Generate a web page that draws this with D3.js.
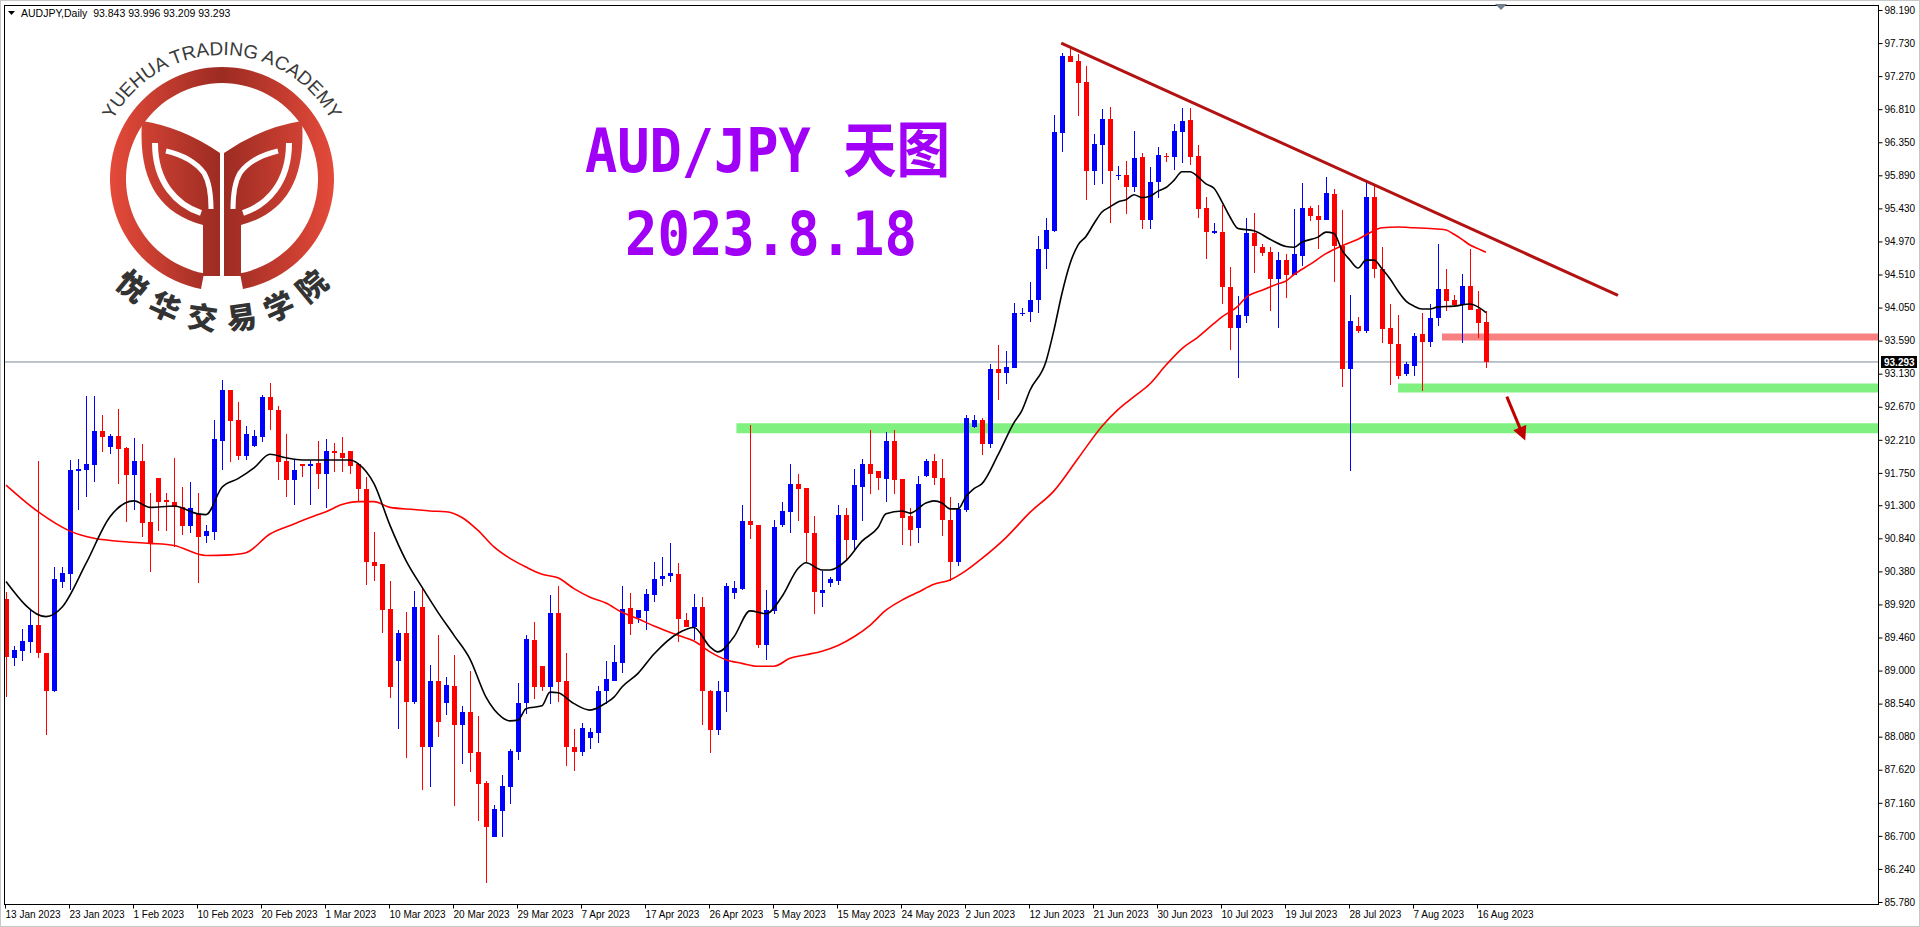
<!DOCTYPE html>
<html><head><meta charset="utf-8">
<script src="https://cdn.jsdelivr.net/npm/d3@7/dist/d3.min.js"></script>
<style>html,body{margin:0;padding:0;background:#fff;overflow:hidden}</style>
</head><body><svg id="c" width="1920" height="927"></svg>
<script>
// ---------------- DATA ----------------
const symbolHeader = "AUDJPY,Daily  93.843 93.996 93.209 93.293";
const titleLine1 = "AUD/JPY 天图";
const titleLine2 = "2023.8.18";
const logoTop = "YUEHUA TRADING ACADEMY";
const logoBottom = "悦华交易学院";
const dateLabels = ["13 Jan 2023","23 Jan 2023","1 Feb 2023","10 Feb 2023","20 Feb 2023","1 Mar 2023","10 Mar 2023","20 Mar 2023","29 Mar 2023","7 Apr 2023","17 Apr 2023","26 Apr 2023","5 May 2023","15 May 2023","24 May 2023","2 Jun 2023","12 Jun 2023","21 Jun 2023","30 Jun 2023","10 Jul 2023","19 Jul 2023","28 Jul 2023","7 Aug 2023","16 Aug 2023"];
const dateLabelStep = 8; // bars between date labels
const priceTicks = [98.19,97.73,97.27,96.81,96.35,95.89,95.43,94.97,94.51,94.05,93.59,93.13,92.67,92.21,91.75,91.30,90.84,90.38,89.92,89.46,89.00,88.54,88.08,87.62,87.16,86.70,86.24,85.78];
const priceMin = 85.78, priceMax = 98.19;
const lastPrice = 93.293;

const candles = [
[89.99,90.09,88.63,89.19],[89.17,89.34,89.06,89.28],[89.27,89.58,89.13,89.41],[89.40,89.86,89.24,89.64],[89.64,91.91,89.17,89.24],
[89.25,89.25,88.10,88.71],[88.71,90.44,88.70,90.28],[90.23,90.44,90.15,90.36],[90.34,91.93,90.12,91.79],[91.78,91.94,91.24,91.80],
[91.79,92.82,91.42,91.87],[91.86,92.82,91.62,92.33],[92.33,92.55,92.04,92.25],[92.11,92.29,92.01,92.27],[92.27,92.64,91.60,92.08],
[92.10,92.11,91.07,91.72],[91.72,92.23,91.23,91.91],[91.91,92.15,90.86,91.05],[91.07,91.47,90.37,90.77],[91.68,91.68,90.94,91.35],
[91.37,91.47,90.94,91.35],[91.35,91.96,90.72,91.27],[91.27,91.55,90.89,91.01],[91.01,91.62,90.92,91.26],[91.18,91.47,90.22,90.86],
[90.87,91.03,90.77,90.94],[90.93,92.48,90.81,92.22],[92.20,93.04,91.79,92.91],[92.91,92.91,91.90,92.47],[92.48,92.74,91.93,91.98],
[91.98,92.40,91.93,92.29],[92.12,92.34,92.11,92.26],[92.25,92.84,92.18,92.81],[92.81,93.00,92.34,92.62],[92.63,92.68,91.65,91.90],
[91.91,92.29,91.41,91.65],[91.65,91.93,91.30,91.79],[91.87,91.88,91.69,91.85],[91.84,91.93,91.31,91.88],[91.89,92.19,91.52,91.74],
[91.74,92.22,91.26,92.05],[92.05,92.16,91.76,92.03],[92.03,92.25,91.76,91.96],[92.05,92.05,91.74,91.84],[91.88,91.89,91.36,91.52],
[91.53,91.69,90.19,90.51],[90.51,90.93,90.25,90.46],[90.48,90.48,89.52,89.84],[89.85,90.24,88.62,88.77],[89.13,89.57,88.18,89.52],
[89.52,89.82,87.78,88.56],[88.56,90.10,88.54,89.89],[89.89,90.15,87.34,87.93],[87.93,89.08,87.38,88.86],[88.86,89.50,88.07,88.28],
[88.55,88.91,88.38,88.80],[88.79,89.22,87.11,88.24],[88.24,88.50,87.70,88.42],[88.42,88.99,87.59,87.85],[87.87,88.37,86.90,87.42],
[87.43,87.47,86.04,86.83],[86.69,87.13,86.68,87.07],[87.05,87.54,86.69,87.39],[87.38,87.91,87.14,87.88],[87.87,88.82,87.75,88.55],
[88.55,89.50,88.40,89.44],[89.43,89.67,88.61,88.77],[89.06,89.07,88.72,88.77],[88.77,90.05,88.53,89.80],[89.80,90.17,88.56,88.84],
[88.85,89.24,87.67,87.93],[87.93,88.18,87.60,87.87],[87.87,88.27,87.81,88.20],[88.06,88.20,87.91,88.14],[88.13,88.79,87.99,88.72],
[88.71,89.13,88.54,88.88],[88.86,89.35,88.86,89.12],[89.11,90.17,88.96,89.86],[89.87,90.08,89.50,89.65],[89.73,89.84,89.66,89.84],
[89.83,90.14,89.57,90.06],[90.05,90.51,89.95,90.28],[90.27,90.58,90.18,90.32],[90.31,90.77,90.23,90.36],[90.34,90.49,89.40,89.72],
[89.71,89.80,89.60,89.61],[89.61,90.07,89.42,89.88],[89.88,90.02,88.24,88.71],[88.72,88.73,87.85,88.17],[88.17,88.85,88.11,88.71],
[88.70,90.22,88.42,90.17],[90.08,90.25,89.99,90.15],[90.14,91.30,90.12,91.08],[91.08,92.41,90.83,91.02],[91.03,91.03,89.31,89.35],
[89.35,90.12,89.14,89.84],[89.83,91.09,89.78,91.00],[91.02,91.35,91.00,91.22],[91.21,91.87,90.91,91.59],[91.59,91.73,91.08,91.52],
[91.54,91.54,90.51,90.91],[90.92,91.15,89.79,90.09],[90.08,90.39,89.89,90.12],[90.22,90.30,90.16,90.27],[90.25,91.31,90.19,91.16],
[91.16,91.26,90.53,90.81],[90.81,91.80,90.67,91.58],[91.56,91.94,91.08,91.87],[91.87,92.34,91.46,91.73],[91.77,91.77,91.51,91.68],
[91.66,92.32,91.35,92.19],[92.19,92.34,91.46,91.65],[91.66,91.66,90.74,91.12],[91.15,91.26,90.73,90.96],[90.98,91.70,90.77,91.60],
[91.70,91.95,91.69,91.92],[91.92,92.01,91.58,91.68],[91.68,91.94,90.87,91.10],[91.10,91.41,90.25,90.51],[90.51,91.33,90.46,91.25],
[91.24,92.56,91.21,92.51],[92.39,92.56,92.38,92.49],[92.49,92.52,92.00,92.15],[92.15,93.27,92.10,93.20],[93.20,93.53,92.77,93.14],
[93.14,93.45,92.98,93.22],[93.21,94.11,93.21,93.97],[93.97,94.05,93.93,93.98],[93.99,94.41,93.85,94.16],[94.16,95.04,93.97,94.87],
[94.87,95.30,94.58,95.13],[95.11,96.73,95.10,96.49],[96.48,97.59,96.22,97.55],[97.55,97.66,97.47,97.47],[97.48,97.58,96.71,97.18],
[97.19,97.41,95.55,95.95],[95.95,96.46,95.75,96.33],[96.31,96.81,95.77,96.67],[96.67,96.84,95.23,95.95],[95.88,96.02,95.82,95.90],
[95.89,96.09,95.35,95.73],[95.73,96.50,95.66,96.13],[96.15,96.20,95.14,95.27],[95.27,96.01,95.14,95.80],[95.80,96.28,95.58,96.17],
[96.16,96.20,96.08,96.14],[96.14,96.61,95.97,96.51],[96.49,96.82,96.06,96.65],[96.66,96.82,96.03,96.15],[96.16,96.31,95.29,95.42],
[95.43,95.59,94.72,95.10],[95.09,95.23,95.07,95.11],[95.10,95.48,94.10,94.33],[94.34,94.62,93.46,93.77],[93.77,94.21,93.07,93.94],
[93.93,95.30,93.84,95.09],[95.09,95.37,94.53,94.90],[94.89,94.93,94.77,94.81],[94.82,94.89,94.00,94.45],[94.45,94.83,93.76,94.71],
[94.71,94.80,94.19,94.51],[94.51,95.42,94.50,94.79],[94.77,95.79,94.63,95.44],[95.44,95.47,95.26,95.32],[95.32,95.48,94.86,95.27],
[95.27,95.86,95.27,95.65],[95.63,95.70,94.41,94.90],[94.90,95.41,92.95,93.19],[93.19,94.22,91.78,93.86],[93.80,93.92,93.70,93.72],
[93.72,95.80,93.70,95.59],[95.59,95.75,94.46,94.58],[94.59,94.89,93.56,93.75],[93.76,94.10,92.97,93.55],[93.55,93.94,93.05,93.10],
[93.12,93.29,93.10,93.26],[93.24,93.69,93.10,93.66],[93.68,93.97,92.89,93.57],[93.57,94.10,93.50,93.91],[93.91,94.93,93.80,94.31],
[94.31,94.58,94.00,94.14],[94.16,94.22,94.06,94.08],[94.08,94.52,93.56,94.35],[94.35,94.86,94.02,94.02],[94.03,94.28,93.63,93.84],
[93.843,93.996,93.209,93.293]
];

const maFast = [[0,90.24],[5,89.75],[7,89.88],[10,90.49],[13,91.14],[16,91.36],[18,91.27],[21,91.29],[24,91.18],[25,91.17],[27,91.55],[29,91.67],[31,91.82],[33,92.01],[35,91.96],[37,91.93],[40,91.93],[43,91.93],[44,91.88],[46,91.60],[48,91.02],[50,90.53],[52,90.16],[54,89.81],[56,89.49],[58,89.16],[60,88.63],[62,88.35],[63,88.30],[64,88.31],[65,88.47],[67,88.51],[68,88.70],[69,88.69],[71,88.54],[73,88.45],[75,88.55],[76,88.63],[77,88.77],[79,88.96],[81,89.23],[84,89.52],[86,89.60],[88,89.33],[89,89.26],[91,89.47],[93,89.83],[95,89.79],[97,90.03],[99,90.42],[100,90.50],[102,90.40],[103,90.40],[105,90.53],[107,90.80],[109,90.99],[110,91.18],[112,91.22],[113,91.19],[115,91.33],[116,91.36],[117,91.33],[118,91.25],[119,91.25],[120,91.42],[121,91.53],[122,91.60],[124,92.0],[126,92.45],[127,92.62],[128,92.9],[130,93.30],[131,93.74],[132,94.25],[133,94.66],[134,94.92],[135,95.04],[136,95.22],[137,95.38],[138,95.45],[139,95.52],[140,95.55],[141,95.62],[142,95.58],[143,95.60],[144,95.67],[145,95.72],[146,95.82],[147,95.94],[148,95.94],[149,95.87],[150,95.77],[151,95.71],[152,95.52],[153,95.31],[154,95.15],[156,95.12],[158,95.00],[160,94.90],[161,94.89],[162,94.96],[164,95.03],[165,95.10],[166,95.08],[167,94.85],[168,94.71],[169,94.60],[170,94.71],[171,94.71],[172,94.59],[173,94.45],[174,94.28],[175,94.14],[176,94.07],[177,94.03],[178,94.03],[179,94.06],[181,94.07],[183,94.10],[184,94.06],[185,93.98]];
const maSlow = [[0,91.58],[4,91.21],[8,90.94],[11,90.84],[14,90.80],[18,90.77],[21,90.74],[25,90.60],[28,90.61],[30,90.64],[33,90.90],[36,91.04],[39,91.17],[40,91.21],[42,91.31],[44,91.35],[46,91.35],[48,91.27],[51,91.24],[53,91.22],[55,91.21],[57,91.13],[59,90.95],[61,90.72],[63,90.56],[65,90.44],[67,90.34],[69,90.29],[71,90.14],[73,90.02],[75,89.94],[77,89.81],[79,89.72],[81,89.62],[84,89.49],[86,89.41],[88,89.26],[90,89.15],[92,89.10],[94,89.06],[96,89.06],[98,89.17],[100,89.22],[102,89.27],[104,89.35],[106,89.47],[108,89.63],[110,89.84],[112,89.98],[114,90.09],[116,90.20],[118,90.26],[120,90.39],[122,90.56],[125,90.85],[128,91.2],[131,91.5],[134,91.95],[137,92.4],[139,92.63],[141,92.81],[143,92.99],[145,93.25],[147,93.48],[149,93.64],[151,93.83],[152,93.92],[154,94.07],[155,94.19],[157,94.29],[159,94.38],[160,94.42],[161,94.51],[163,94.65],[165,94.80],[167,94.91],[169,95.00],[171,95.12],[172,95.16],[174,95.17],[176,95.16],[178,95.15],[180,95.13],[181,95.07],[182,95.00],[183,94.92],[184,94.87],[185,94.82]];

const trendLine = [[131.9,97.73],[201.5,94.22]];
const resistance = {from:179.5, price:93.64};
const support1 = {from:174, price:92.93};
const support2 = {from:91.3, price:92.37};
const arrowPts = [[187.6,92.81],[189.9,92.20]];

// ---------------- LAYOUT ----------------
const svg = d3.select("#c");
const L=4, T=5, R=1878, B=904;
const x = d3.scaleLinear().domain([0,185]).range([6,1486]);
const y = d3.scaleLinear().domain([priceMin,priceMax]).range([902,10]);

svg.append("rect").attr("x",0).attr("y",0).attr("width",1920).attr("height",927).attr("fill","#fff");
svg.append("rect").attr("x",0.5).attr("y",0.5).attr("width",1919).attr("height",926).attr("fill","none").attr("stroke","#c8c8c8");

const defs = svg.append("defs");
defs.append("clipPath").attr("id","pc").append("rect").attr("x",L+1).attr("y",T+1).attr("width",R-L-1).attr("height",B-T-1);
const grad = defs.append("linearGradient").attr("id","lg").attr("gradientUnits","userSpaceOnUse")
  .attr("x1",-112).attr("x2",112).attr("y1",0).attr("y2",0);
grad.append("stop").attr("offset","0").attr("stop-color","#e44a3a");
grad.append("stop").attr("offset","0.5").attr("stop-color","#9c2b22");
grad.append("stop").attr("offset","1").attr("stop-color","#e44a3a");

// ---------------- LOGO ----------------
const LX=222, LY=179;
const lg = svg.append("g").attr("transform",`translate(${LX},${LY})`);
const arc = d3.arc().innerRadius(96).outerRadius(112).startAngle(Math.PI*1.06).endAngle(Math.PI*2.94);
lg.append("path").attr("d",arc()).attr("fill","url(#lg)");
[1,-1].forEach(s=>{
  const g = lg.append("g").attr("transform",`scale(${s},1)`);
  g.append("path").attr("fill","url(#lg)")
   .attr("d","M-80,-58 Q-40,-52 -2,-26 L-2,97 L-19,97 L-19,46 C-64,34 -84,0 -80,-58 Z");
  g.append("path").attr("fill","none").attr("stroke","#fff").attr("stroke-width",6)
   .attr("d","M-67,-36 C-67,4 -45,26 -21,34");
  g.append("path").attr("fill","none").attr("stroke","#fff").attr("stroke-width",5)
   .attr("d","M-56,-28 Q-30,-22 -18,-6 Q-11,6 -11,30");
});
lg.append("line").attr("x1",0).attr("x2",0).attr("y1",-20).attr("y2",98).attr("stroke","#fff").attr("stroke-width",4);
defs.append("path").attr("id","toparc").attr("d",(()=>{const r=124,a0=-158*Math.PI/180,a1=-22*Math.PI/180;
  return `M${LX+r*Math.cos(a0)},${LY+r*Math.sin(a0)} A${r},${r} 0 0 1 ${LX+r*Math.cos(a1)},${LY+r*Math.sin(a1)}`;})());
svg.append("text").attr("font-family","Liberation Sans, Arial").attr("font-size",19).attr("fill","#3a3a3a")
  .append("textPath").attr("href","#toparc").attr("startOffset","50%").attr("text-anchor","middle").text(logoTop);
logoBottom.split("").forEach((ch,i)=>{
  const deg = 130 - i*16, a = deg*Math.PI/180, r=138;
  const cx=LX+r*Math.cos(a), cy=LY+r*Math.sin(a);
  svg.append("text").attr("x",cx).attr("y",cy).attr("text-anchor","middle").attr("dominant-baseline","central")
    .attr("transform",`rotate(${deg-90},${cx},${cy})`)
    .attr("font-family","Noto Sans CJK SC").attr("font-weight",900).attr("font-size",30).attr("fill","#333").text(ch);
});

// ---------------- TITLE ----------------
svg.append("text").attr("x",585).attr("y",172).attr("textLength",365).attr("lengthAdjust","spacingAndGlyphs")
  .attr("font-family","DejaVu Sans Mono, Noto Sans CJK SC").attr("font-weight","bold").attr("font-size",60).attr("fill","#a000f5").text(titleLine1);
svg.append("text").attr("x",625).attr("y",255).attr("textLength",292).attr("lengthAdjust","spacingAndGlyphs")
  .attr("font-family","DejaVu Sans Mono").attr("font-weight","bold").attr("font-size",60).attr("fill","#a000f5").text(titleLine2);

// ---------------- PLOT ----------------
const pg = svg.append("g").attr("clip-path","url(#pc)");
pg.append("line").attr("x1",L).attr("x2",R).attr("y1",y(lastPrice)).attr("y2",y(lastPrice)).attr("stroke","#778899").attr("stroke-width",1);
[[support2,"#80f080",10],[support1,"#80f080",9],[resistance,"#f88080",7]].forEach(([z,c,w])=>{
  pg.append("line").attr("x1",x(z.from)).attr("x2",R).attr("y1",y(z.price)).attr("y2",y(z.price)).attr("stroke",c).attr("stroke-width",w);
});
const cg = pg.append("g").attr("shape-rendering","crispEdges");
candles.forEach((d,i)=>{
  const [o,h,l,c]=d, col = c>=o ? "#0000ff" : "#ff0000", cx=Math.round(x(i));
  cg.append("line").attr("x1",cx+0.5).attr("x2",cx+0.5).attr("y1",y(h)).attr("y2",y(l)).attr("stroke",col);
  const yt=y(Math.max(o,c)), yb=y(Math.min(o,c));
  cg.append("rect").attr("x",cx-2).attr("y",yt).attr("width",5).attr("height",Math.max(1,yb-yt)).attr("fill",col);
});
const ln = d3.line().x(d=>x(d[0])).y(d=>y(d[1])).curve(d3.curveMonotoneX);
pg.append("path").attr("d",ln(maSlow)).attr("fill","none").attr("stroke","#ff0000").attr("stroke-width",1.6);
pg.append("path").attr("d",ln(maFast)).attr("fill","none").attr("stroke","#000").attr("stroke-width",1.6);
pg.append("line").attr("x1",x(trendLine[0][0])).attr("y1",y(trendLine[0][1])).attr("x2",x(trendLine[1][0])).attr("y2",y(trendLine[1][1]))
  .attr("stroke","#b31212").attr("stroke-width",3);
const ax0=x(arrowPts[0][0]), ay0=y(arrowPts[0][1]), ax1=x(arrowPts[1][0]), ay1=y(arrowPts[1][1]);
const ang=Math.atan2(ay1-ay0,ax1-ax0);
pg.append("line").attr("x1",ax0).attr("y1",ay0).attr("x2",ax1-10*Math.cos(ang)).attr("y2",ay1-10*Math.sin(ang)).attr("stroke","#c00000").attr("stroke-width",3);
const hp=[[ax1,ay1],[ax1-14*Math.cos(ang)+7*Math.sin(ang),ay1-14*Math.sin(ang)-7*Math.cos(ang)],[ax1-14*Math.cos(ang)-7*Math.sin(ang),ay1-14*Math.sin(ang)+7*Math.cos(ang)]];
pg.append("path").attr("d","M"+hp.join("L")+"Z").attr("fill","#c00000");

svg.append("rect").attr("x",L+0.5).attr("y",T+0.5).attr("width",R-L).attr("height",B-T).attr("fill","none").attr("stroke","#000");
svg.append("path").attr("d","M1495,4 L1507,4 L1501,10 Z").attr("fill","#708090");

svg.append("path").attr("d","M8,11 L15,11 L11.5,15 Z").attr("fill","#000");
svg.append("text").attr("x",21).attr("y",17).attr("font-family","Liberation Sans, Arial").attr("font-size",10.5).attr("fill","#000")
  .attr("xml:space","preserve").text(symbolHeader);

const ya = d3.axisRight(y).tickValues(priceTicks).tickSize(4).tickFormat(d3.format(".3f"));
const yg = svg.append("g").attr("transform",`translate(${R+0.5},0)`).call(ya);
yg.select(".domain").remove();
yg.selectAll("text").attr("font-family","Liberation Sans, Arial").attr("font-size",10).attr("fill","#000").attr("x",6);
yg.selectAll("line").attr("stroke","#000");
svg.append("rect").attr("x",R+3).attr("y",y(lastPrice)-6).attr("width",36).attr("height",12).attr("fill","#000");
svg.append("text").attr("x",R+6).attr("y",y(lastPrice)+4).attr("font-family","Liberation Sans, Arial").attr("font-weight","bold").attr("font-size",10).attr("fill","#fff").text(lastPrice.toFixed(3));

const tickIdx = dateLabels.map((_,i)=>i*dateLabelStep);
const xa = d3.axisBottom(x).tickValues(tickIdx).tickSize(4).tickFormat((d,i)=>dateLabels[i]);
const xg = svg.append("g").attr("transform",`translate(0,${B+0.5})`).call(xa);
xg.select(".domain").remove();
xg.selectAll("line").attr("stroke","#000").attr("transform","translate(-1,0)");
xg.selectAll("text").attr("font-family","Liberation Sans, Arial").attr("font-size",10).attr("fill","#000")
  .attr("text-anchor","start").attr("dx",-1).attr("y",6);
</script></body></html>
